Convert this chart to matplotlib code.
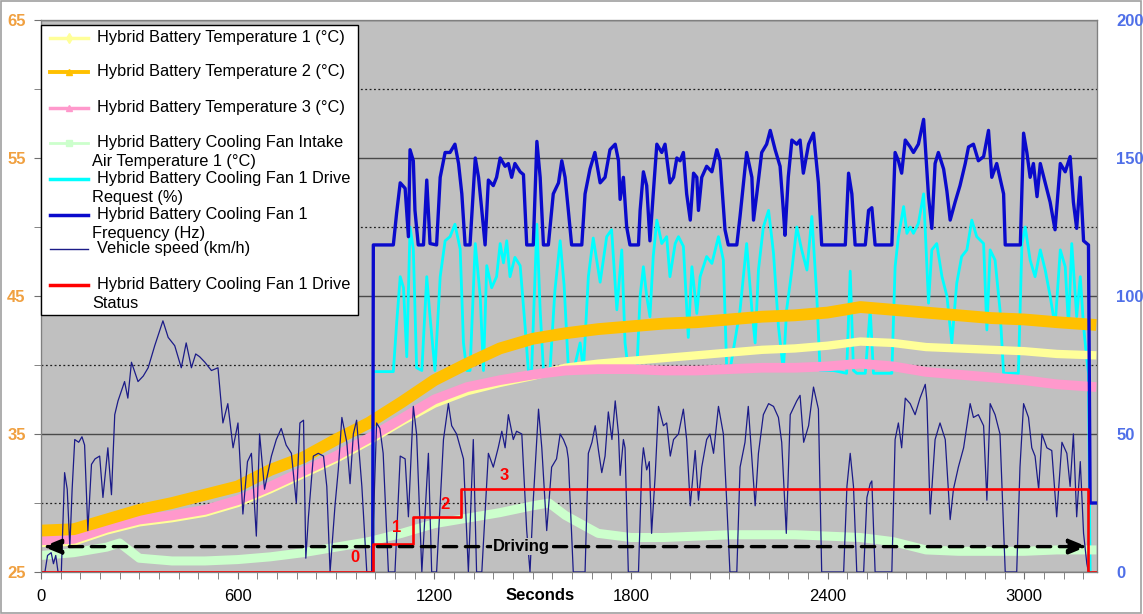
import matplotlib
matplotlib.use('Agg')
import matplotlib.pyplot as plt
from matplotlib.patches import Rectangle
from matplotlib.ticker import MultipleLocator

plt.rcParams['font.family'] = ['Liberation Sans', 'DejaVu Sans']

# ---- data ----
temp_t = [0, 100, 200, 300, 400, 500, 600, 700, 800, 900, 1000, 1100, 1200, 1300, 1400, 1500,
          1600, 1700, 1800, 1900, 2000, 2100, 2200, 2300, 2400, 2500, 2600, 2700, 2800, 2900,
          3000, 3100, 3220]
temp1 = [27.1, 27.2, 28.0, 28.6, 28.9, 29.3, 30.0, 31.0, 32.1, 33.2, 34.5, 35.9, 37.2, 38.1, 38.7,
         39.2, 39.8, 40.1, 40.3, 40.5, 40.7, 40.9, 41.1, 41.2, 41.4, 41.7, 41.6, 41.3, 41.2, 41.1,
         41.0, 40.8, 40.7]
temp2 = [28.0, 28.1, 28.8, 29.5, 30.0, 30.6, 31.2, 32.4, 33.3, 34.6, 35.8, 37.3, 38.9, 40.1, 41.2,
         41.9, 42.3, 42.6, 42.8, 43.0, 43.1, 43.3, 43.5, 43.6, 43.8, 44.2, 44.0, 43.8, 43.6, 43.4,
         43.3, 43.1, 42.9]
temp3 = [27.3, 27.4, 28.2, 28.8, 29.1, 29.5, 30.2, 31.2, 32.3, 33.4, 34.7, 36.1, 37.5, 38.4, 38.9,
         39.3, 39.6, 39.7, 39.7, 39.6, 39.6, 39.7, 39.8, 39.8, 39.9, 40.1, 39.9, 39.5, 39.3, 39.1,
         38.9, 38.6, 38.4]

intake_t = [0, 100, 200, 240, 300, 400, 500, 600, 700, 800, 900, 1000, 1100, 1200, 1300, 1400,
            1500, 1550, 1600, 1700, 1800, 1900, 2000, 2100, 2200, 2300, 2400, 2500, 2600, 2700,
            2800, 2900, 3000, 3100, 3220]
intake = [26.2, 26.4, 26.8, 27.1, 26.0, 25.8, 25.8, 25.9, 26.1, 26.4, 26.8, 27.2, 27.8, 28.5, 28.9,
          29.3, 29.8, 30.0, 29.1, 27.8, 27.5, 27.5, 27.6, 27.7, 27.7, 27.7, 27.6, 27.5, 27.2, 26.6,
          26.5, 26.5, 26.5, 26.6, 26.6]

req_t = [1012, 1014, 1075, 1085, 1096, 1106, 1116, 1126, 1136, 1146, 1162, 1177, 1187, 1202,
         1218, 1233, 1248, 1263, 1279, 1289, 1299, 1309, 1325, 1340, 1350, 1360, 1375, 1390, 1401,
         1411, 1421, 1431, 1446, 1462, 1477, 1487, 1497, 1513, 1523, 1533, 1553, 1568, 1584, 1596,
         1609, 1625, 1645, 1655, 1670, 1685, 1706, 1726, 1741, 1757, 1772, 1782, 1792, 1818, 1828,
         1838, 1848, 1858, 1868, 1879, 1894, 1909, 1919, 1935, 1945, 1960, 1975, 1986, 2001, 2011,
         2031, 2047, 2067, 2082, 2092, 2102, 2133, 2153, 2169, 2179, 2189, 2204, 2220, 2235, 2250,
         2265, 2275, 2291, 2306, 2321, 2337, 2352, 2367, 2377, 2418, 2458, 2469, 2479, 2489, 2515,
         2530, 2540, 2596, 2606, 2616, 2632, 2642, 2652, 2662, 2677, 2693, 2708, 2718, 2733, 2749,
         2764, 2779, 2794, 2809, 2825, 2840, 2855, 2876, 2886, 2896, 2911, 2926, 2937, 2982, 2993,
         3003, 3018, 3033, 3049, 3064, 3079, 3094, 3110, 3125, 3135, 3145, 3160, 3171, 3181, 3191,
         3196, 3201]
req_pct = [0, 72.6, 72.6, 90, 107, 103, 78, 125, 117, 74, 73, 107, 92.5, 73,
           107, 120, 121.5, 126, 117, 83, 73, 73, 119, 100, 73, 111, 103, 107, 119,
           112, 120, 107, 114, 111, 89, 73, 73, 126, 95, 73, 73, 102, 120, 104,
           74, 73, 83, 73, 107, 121, 105, 121.5, 124, 95, 116.7, 83, 73, 73, 100,
           110.6, 100, 92.5, 114.3, 127.5, 119, 121.5, 107, 119, 121.5, 118, 85, 110.6, 93.7, 107,
           114.3, 111.8, 121.5, 113, 74.4, 73, 95, 119, 95, 83, 109.4, 125, 131, 115.5, 89,
           73, 95, 109.4, 125, 116.7, 109.4, 128.8, 100, 73, 73, 72, 109, 73, 72, 72,
           95, 72, 72, 110.6, 121.5, 132.4, 122.7, 125, 122.7, 126.3, 137, 97.4, 116.7, 119, 107,
           100, 83, 104.6, 114.3, 116.7, 127.5, 121.5, 119, 87.7, 116.7, 113, 95, 72, 72, 119,
           125, 113, 107, 116.7, 109.4, 100, 89, 116.7, 110.6, 89, 119, 92.5, 107, 89, 77,
           72, 0]

fan_t = [1012, 1014, 1075, 1085, 1096, 1111, 1121, 1126, 1136, 1141, 1151, 1167, 1177, 1187,
         1207, 1218, 1233, 1248, 1263, 1274, 1284, 1294, 1309, 1325, 1335, 1345, 1355, 1365, 1380,
         1390, 1401, 1416, 1426, 1436, 1446, 1462, 1472, 1482, 1502, 1513, 1523, 1533, 1548, 1563,
         1579, 1589, 1599, 1609, 1619, 1650, 1660, 1675, 1690, 1706, 1721, 1736, 1752, 1762, 1767,
         1777, 1787, 1797, 1823, 1828, 1838, 1848, 1858, 1868, 1879, 1894, 1904, 1919, 1930, 1940,
         1950, 1960, 1970, 1981, 1991, 2001, 2006, 2016, 2031, 2047, 2062, 2072, 2087, 2097, 2123,
         2133, 2153, 2169, 2174, 2184, 2199, 2214, 2225, 2240, 2255, 2265, 2270, 2280, 2291, 2306,
         2316, 2326, 2342, 2357, 2372, 2382, 2454, 2464, 2474, 2484, 2515, 2525, 2535, 2545, 2596,
         2606, 2616, 2626, 2637, 2652, 2662, 2677, 2693, 2708, 2718, 2728, 2738, 2754, 2764, 2774,
         2789, 2804, 2820, 2830, 2845, 2860, 2876, 2891, 2901, 2916, 2937, 2942, 2988, 2998, 3008,
         3018, 3028, 3039, 3049, 3064, 3079, 3094, 3110, 3125, 3140, 3150, 3160, 3171, 3181, 3196,
         3201, 3222]
fan_hz = [0, 118.5, 118.5, 130, 141, 139, 121.5, 153, 149, 131, 118.5, 118.5, 142, 119,
          118.5, 143, 152, 152, 155, 148, 137, 118.5, 118.5, 150, 143, 131, 118.5, 142, 140,
          143, 150, 147, 148, 143, 148, 145, 144, 118.5, 118.5, 156, 143, 118.5, 118.5, 137,
          141, 149, 143, 131, 118.5, 118.5, 137, 146, 152, 141, 143, 153, 155, 149, 135,
          143, 125, 118.5, 118.5, 131, 145, 140, 120, 137, 155, 152, 155, 141, 143, 150,
          149, 152, 137, 127.5, 144.5, 143, 131, 143, 147, 145, 153, 149, 124, 118.5, 118.5,
          129, 152, 143, 127.5, 137, 152, 155, 160, 153, 147, 131, 122, 143, 156.5, 155,
          156.5, 144.5, 155, 159, 141, 118.5, 118.5, 144.5, 137, 118.5, 118.5, 131, 132, 118.5, 118.5,
          152, 149, 144.5, 156.5, 154, 152, 155, 164, 136, 124.5, 148, 152, 146, 138, 127.5,
          134, 140, 148, 154, 155, 149, 150.5, 160, 143, 148, 137, 118.5, 118.5, 159, 152,
          143, 148, 136, 148, 141, 134, 124, 148, 145, 150.5, 134, 124.5, 143, 120, 118.5,
          25, 25]

speed_t = [0, 12, 20, 31, 38, 45, 52, 62, 72, 80, 88, 95, 103, 115, 125, 133, 143, 154, 165, 179,
           189, 204, 215, 225, 235, 255, 265, 276, 296, 312, 327, 347, 372, 388, 408, 428, 443,
           459, 472, 484, 500, 520, 540, 555, 570, 586, 601, 616, 630, 642, 657, 667, 682, 703,
           718, 733, 748, 764, 779, 790, 801, 808, 816, 831, 846, 862, 872, 882, 897, 907, 918,
           933, 943, 953, 963, 979, 994, 1009, 1024, 1034, 1044, 1060, 1080, 1096, 1111, 1121,
           1136, 1146, 1162, 1182, 1192, 1207, 1228, 1243, 1253, 1268, 1289, 1304, 1319, 1329,
           1345, 1365, 1380, 1395, 1406, 1416, 1426, 1441, 1451, 1467, 1482, 1492, 1502, 1518,
           1528, 1543, 1558, 1573, 1584, 1594, 1604, 1609, 1624, 1660, 1670, 1681, 1691, 1701,
           1711, 1721, 1731, 1742, 1752, 1762, 1767, 1777, 1782, 1792, 1823, 1833, 1838, 1848,
           1856, 1863, 1874, 1884, 1899, 1909, 1920, 1930, 1945, 1960, 1970, 1981, 1996, 2006,
           2016, 2031, 2041, 2052, 2067, 2082, 2092, 2102, 2123, 2133, 2148, 2158, 2168, 2179,
           2189, 2204, 2220, 2235, 2250, 2260, 2274, 2286, 2306, 2316, 2327, 2342, 2357, 2372,
           2382, 2449, 2459, 2469, 2479, 2489, 2510, 2520, 2530, 2535, 2545, 2596, 2606, 2616,
           2626, 2637, 2652, 2667, 2682, 2698, 2703, 2713, 2728, 2743, 2759, 2774, 2784, 2799,
           2815, 2825, 2835, 2845, 2860, 2876, 2886, 2896, 2911, 2926, 2942, 2977, 2987, 2998,
           3013, 3023, 3033, 3044, 3054, 3069, 3084, 3099, 3115, 3130, 3140, 3150, 3160, 3171,
           3181, 3191, 3196]
speed_kmh = [0, 0, 6, 7, 3, 6, 0, 0, 36, 30, 9, 30, 48, 47, 49, 46, 15, 39, 41, 42,
             27, 45, 28, 57, 62, 69, 63, 76, 69, 71, 74, 82, 91, 85, 82, 74, 83,
             74, 79, 78, 76, 73, 74, 54, 61, 45, 54, 21, 40, 43, 13, 50, 30, 42,
             48, 52, 46, 43, 25, 54, 55, 5, 20, 42, 43, 42, 31, 0, 24, 37, 56,
             47, 32, 50, 55, 31, 0, 0, 54, 52, 43, 0, 0, 42, 41, 20,
             60, 50, 0, 43, 0, 0, 48, 61, 53, 50, 41, 0, 48, 0,
             0, 43, 38, 45, 51, 45, 57, 48, 51, 50, 15, 0, 26, 59,
             45, 15, 38, 41, 50, 48, 45, 41, 0, 0, 43, 47, 53, 44,
             36, 42, 58, 48, 62, 50, 35, 48, 45, 0, 0, 38, 45, 37,
             40, 14, 35, 60, 53, 54, 42, 48, 50, 59, 48, 24, 44, 26,
             38, 48, 50, 43, 60, 50, 26, 0, 0, 38, 47, 60, 43, 24,
             43, 57, 61, 60, 56, 47, 14, 57, 62, 64, 47, 53, 67, 59,
             0, 0, 31, 43, 31, 0, 0, 27, 32, 33, 0, 0, 48, 54,
             45, 63, 61, 57, 63, 68, 62, 21, 48, 54, 48, 19, 30, 38,
             45, 53, 61, 56, 57, 53, 26, 61, 57, 50, 0, 0, 38, 61,
             56, 45, 42, 30, 50, 45, 44, 20, 47, 43, 31, 50, 20, 40,
             14, 3, 0]

status_t = [0, 1012, 1135, 1280, 3196, 3222]
status = [0, 1, 2, 3, 0, 0]

# ---- figure ----
fig = plt.figure(figsize=(11.43, 6.14), dpi=100)
ax = fig.add_axes([41 / 1143, 42 / 614, 1056 / 1143, 552 / 614])
ax_req = ax.twinx()   # lowest layer: background, grid, drive request
ax2 = ax.twinx()      # top layer: right axis
ax_req.set_zorder(0)
ax.set_zorder(1)
ax2.set_zorder(2)
ax_req.patch.set_visible(True)
ax_req.set_facecolor('#C0C0C0')
ax.patch.set_visible(False)

ax.set_xlim(0, 3222)
ax.set_ylim(25, 65)
ax_req.set_ylim(0, 200)
ax2.set_ylim(0, 200)

# grid
ax_req.yaxis.set_major_locator(MultipleLocator(50))
ax_req.yaxis.set_minor_locator(MultipleLocator(25))
ax_req.grid(True, which='major', axis='y', color='#4a4a4a', lw=1.0, ls='-')
ax_req.grid(True, which='minor', axis='y', color='#202020', lw=0.9, ls=(0, (1.5, 2.0)))
ax_req.tick_params(which='both', length=0, labelright=False)

# series
ax_req.plot(req_t, req_pct, color='#00FFFF', lw=2.0)
ax.plot(temp_t, temp1, color='#FFFF99', lw=6.0, solid_capstyle='butt')
ax.plot(temp_t, temp3, color='#FF99CC', lw=7.0, solid_capstyle='butt')
ax.plot(temp_t, temp2, color='#FFC000', lw=8.5, solid_capstyle='butt')
ax.plot(intake_t, intake, color='#CCFFCC', lw=6.5, solid_capstyle='butt')
ax2.plot(fan_t, fan_hz, color='#0A0ACC', lw=2.4)
ax2.plot(speed_t, speed_kmh, color='#1B1B88', lw=0.9)
ax2.plot(status_t, [s * 10 for s in status], color='#FF0000', lw=1.9, drawstyle='steps-post')

# status labels
for t, r, s in [(958, 5.1, '0'), (1086, 16, '1'), (1233, 24.3, '2'), (1413, 35.1, '3')]:
    ax2.text(t, r, s, color='#FF0000', fontsize=12, fontweight='bold', ha='center', va='center')

# driving arrow
drive_start, drive_end, drive_level = 6, 3192, 9.2
ax2.annotate('', xy=(drive_end, drive_level), xytext=(drive_start, drive_level),
             arrowprops=dict(arrowstyle='<|-|>,head_length=1.1,head_width=0.45', color='black',
                             lw=2.4, linestyle=(0, (4, 2.6)), shrinkA=0, shrinkB=0))
ax2.text(1467, drive_level, 'Driving', fontsize=12, fontweight='bold', ha='center', va='center',
         bbox=dict(facecolor='#C0C0C0', edgecolor='none', pad=1.0))

# axes styling
for a in (ax, ax_req, ax2):
    for sp in a.spines.values():
        sp.set_color('#808080')
ax.set_yticks([25, 35, 45, 55, 65])
ax.set_yticks([30, 40, 50, 60], minor=True)
ax.tick_params(axis='y', which='both', direction='out', length=5, color='#707070',
               labelcolor='#F0A040', labelsize=12, pad=6)
for lbl in ax.get_yticklabels():
    lbl.set_fontweight('bold')
ax2.set_yticks([0, 50, 100, 150, 200])
ax2.tick_params(axis='y', direction='out', length=0, labelcolor='#4F6FE8', labelsize=12, pad=14)
for lbl in ax2.get_yticklabels():
    lbl.set_fontweight('bold')
ax.set_xticks([0, 600, 1200, 1800, 2400, 3000])
ax.xaxis.set_minor_locator(MultipleLocator(60))
ax.tick_params(axis='x', which='both', direction='out', length=5, color='#707070',
               labelsize=12, pad=7)
ax.text(0.4725, -0.043, 'Seconds', transform=ax.transAxes, fontsize=12, fontweight='bold',
        ha='center', va='center')


# legend drawn by hand (Excel layout: handle on the first line of each entry)
def px(x, y):
    return (x - 41) / 1056, (572 - y) / 552


bx, by = px(41, 315)
ax2.add_patch(Rectangle((bx, by), (358 - 41) / 1056, (315 - 25) / 552, transform=ax2.transAxes,
                        facecolor='white', edgecolor='black', lw=1.0, zorder=10, clip_on=False))
legend_rows = [
    (['Hybrid Battery Temperature 1 (°C)'], 38, '#FFFF99', 2.5, 'd'),
    (['Hybrid Battery Temperature 2 (°C)'], 72, '#FFC000', 2.8, '^'),
    (['Hybrid Battery Temperature 3 (°C)'], 108, '#FF99CC', 2.5, '^'),
    (['Hybrid Battery Cooling Fan Intake', 'Air Temperature 1 (°C)'], 143, '#CCFFCC', 2.0, 's'),
    (['Hybrid Battery Cooling Fan 1 Drive', 'Request (%)'], 179, '#00FFFF', 2.5, None),
    (['Hybrid Battery Cooling Fan 1', 'Frequency (Hz)'], 215, '#0A0ACC', 2.5, None),
    (['Vehicle speed (km/h)'], 249, '#1B1B88', 1.0, None),
    (['Hybrid Battery Cooling Fan 1 Drive', 'Status'], 285, '#FF0000', 2.5, None),
]
for lines, y, col, lw, mk in legend_rows:
    x0, y0 = px(50, y)
    x1, _ = px(69, y)
    x2, _ = px(88, y)
    ax2.plot([x0, x1, x2], [y0, y0, y0], transform=ax2.transAxes, color=col, lw=lw,
             marker=mk, markevery=[1], markersize=5, zorder=11, clip_on=False)
    tx, ty = px(97, y)
    ax2.text(tx, ty, lines[0], transform=ax2.transAxes, fontsize=11.8, va='center', ha='left',
             zorder=12)
    if len(lines) > 1:
        tx, ty = px(92, y + 19)
        ax2.text(tx, ty, lines[1], transform=ax2.transAxes, fontsize=11.8, va='center',
                 ha='left', zorder=12)

fig.patches.append(Rectangle((0.001, 0.002), 0.997, 0.996, transform=fig.transFigure,
                             fill=False, edgecolor='#A0A0A0', lw=1.2))

fig.savefig('out.png', dpi=100)
